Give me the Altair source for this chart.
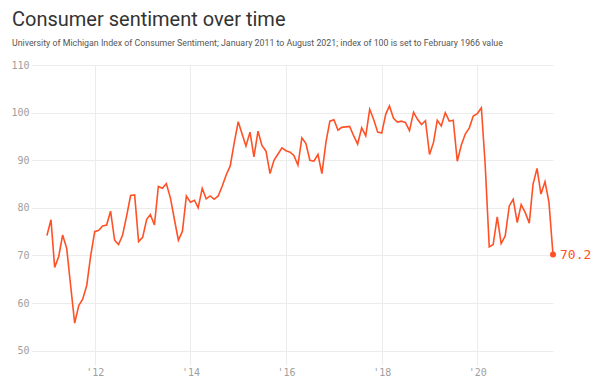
import altair as alt
import pandas as pd

start_month = "2011-01-01"
values = [
    # 2011
    74.2, 77.5, 67.5, 69.8, 74.3, 71.5, 63.7, 55.8, 59.5, 60.8, 63.7, 69.9,
    # 2012
    75.0, 75.3, 76.2, 76.4, 79.3, 73.2, 72.3, 74.3, 78.3, 82.6, 82.7, 72.9,
    # 2013
    73.8, 77.6, 78.6, 76.4, 84.5, 84.1, 85.1, 82.1, 77.5, 73.2, 75.1, 82.5,
    # 2014
    81.2, 81.6, 80.0, 84.1, 81.9, 82.5, 81.8, 82.5, 84.6, 86.9, 88.8, 93.6,
    # 2015
    98.1, 95.4, 93.0, 95.9, 90.7, 96.1, 93.1, 91.9, 87.2, 90.0, 91.3, 92.6,
    # 2016
    92.0, 91.7, 91.0, 89.0, 94.7, 93.5, 90.0, 89.8, 91.2, 87.2, 93.8, 98.2,
    # 2017
    98.5, 96.3, 96.9, 97.0, 97.1, 95.1, 93.4, 96.8, 95.1, 100.7, 98.5, 95.9,
    # 2018
    95.7, 99.7, 101.4, 98.8, 98.0, 98.2, 97.9, 96.2, 100.1, 98.6, 97.5, 98.3,
    # 2019
    91.2, 93.8, 98.4, 97.2, 100.0, 98.2, 98.4, 89.8, 93.2, 95.5, 96.8, 99.3,
    # 2020
    99.8, 101.0, 89.1, 71.8, 72.3, 78.1, 72.5, 74.1, 80.4, 81.8, 76.9, 80.7,
    # 2021
    79.0, 76.8, 84.9, 88.3, 82.9, 85.5, 81.2, 70.2,
]
y_ticks = [50, 60, 70, 80, 90, 100, 110]
x_tick_years = ["2012-01-01", "2014-01-01", "2016-01-01", "2018-01-01", "2020-01-01"]

dates = pd.date_range(start_month, periods=len(values), freq="MS")
df = pd.DataFrame({"date": dates, "value": values})
last = df.tail(1).copy()
last["label"] = last["value"].map(lambda v: f"{v:.1f}")

COLOR = "#ff5126"
MONO = "DejaVu Sans Mono"

x_scale = alt.Scale(domain=["2010-09-09", "2021-08-01"])
y_scale = alt.Scale(domain=[47, 110], nice=False, zero=False)

x_enc = alt.X(
    "date:T",
    scale=x_scale,
    axis=alt.Axis(
        values=x_tick_years,
        format="'%y",
        title=None,
        grid=True,
        gridColor="#ececec",
        domain=False,
        ticks=False,
        labelFont=MONO,
        labelFontSize=10,
        labelColor="#a0a0a0",
        labelPadding=2,
    ),
)
y_enc = alt.Y(
    "value:Q",
    scale=y_scale,
    axis=alt.Axis(
        values=y_ticks,
        title=None,
        grid=True,
        gridColor="#ececec",
        domain=False,
        ticks=False,
        labelFont=MONO,
        labelFontSize=10,
        labelColor="#a0a0a0",
        labelPadding=3,
    ),
)

line = alt.Chart(df).mark_line(color=COLOR, strokeWidth=1.6).encode(x=x_enc, y=y_enc)
dot = alt.Chart(last).mark_circle(color=COLOR, size=36, opacity=1).encode(x="date:T", y="value:Q")
label = alt.Chart(last).mark_text(
    align="left", baseline="middle", dx=7, font=MONO, fontSize=13, color=COLOR
).encode(x="date:T", y="value:Q", text="label:N")

chart = (
    alt.layer(line, dot, label)
    .properties(
        width=521,
        height=300,
        autosize=alt.AutoSizeParams(type="none"),
        padding={"left": 24, "top": 57, "right": 40, "bottom": 19},
        title=alt.TitleParams(
            text="Consumer sentiment over time",
            subtitle="University of Michigan Index of Consumer Sentiment; January 2011 to August 2021; index of 100 is set to February 1966 value",
            anchor="start",
            frame="group",
            dx=-20,
            offset=12,
            font="Roboto",
            fontSize=20,
            fontWeight="normal",
            color="#333333",
            subtitleFont="Roboto",
            subtitleFontSize=8.8,
            subtitleColor="#555555",
            subtitlePadding=9,
        ),
    )
    .configure_view(stroke=None)
)

chart.save("out.html", embed_options={"renderer": "svg", "actions": False})
